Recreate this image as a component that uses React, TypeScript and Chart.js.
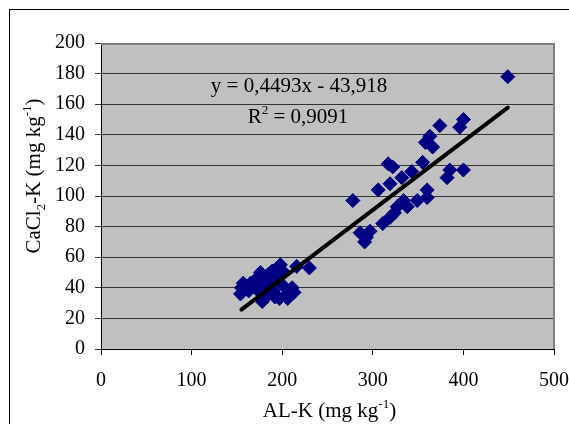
import React, { useEffect, useRef } from 'react';
import { Chart, registerables } from 'chart.js';

Chart.register(...registerables);

const FAMILY = "'Liberation Serif', 'Times New Roman', serif";

// AL-K (x) and CaCl2-K (y), mg/kg
const alK = [
  154, 155, 157, 160, 163, 165, 168, 170, 172, 175, 176, 178, 180, 182, 184, 185, 187, 189, 190, 192, 194,
  195, 197, 198, 200, 202, 204, 206, 208, 211, 213, 216, 230,
  278, 286, 291, 293, 297, 306, 311, 317, 319, 319, 322, 324, 327, 332, 334, 338, 343, 349, 355, 358, 360,
  360, 363, 366, 374, 382, 385, 396, 400, 400, 449,
];
const caclK = [
  36, 40, 43, 40, 38, 43, 41, 45, 39, 46, 50, 31, 42, 47, 35, 49, 44, 51, 38, 34, 47,
  53, 33, 55, 42, 50, 35, 33, 38, 40, 37, 54, 53,
  97, 76, 70, 73, 77, 104, 82, 121, 108, 86, 119, 89, 93, 112, 97, 93, 116, 97, 122, 135, 104,
  99, 139, 132, 146, 112, 117, 145, 150, 117, 178,
];

// Linear trend line
const SLOPE = 0.4493;
const INTERCEPT = -43.918;
const FIT_RANGE = [155, 449];

const X_TICKS = [0, 100, 200, 300, 400, 500];
const Y_TICKS = [0, 20, 40, 60, 80, 100, 120, 140, 160, 180, 200];

const EQUATION = 'y = 0,4493x - 43,918';
const R2_VALUE = ' = 0,9091';

type Seg = { t: string; s?: 'sub' | 'sup' };

const X_TITLE: Seg[] = [{ t: 'AL-K (mg kg' }, { t: '-1', s: 'sup' }, { t: ')' }];
const Y_TITLE: Seg[] = [
  { t: 'CaCl' },
  { t: '2', s: 'sub' },
  { t: '-K (mg kg' },
  { t: '-1', s: 'sup' },
  { t: ')' },
];
const R2_LINE: Seg[] = [{ t: 'R' }, { t: '2', s: 'sup' }, { t: R2_VALUE }];
const EQ_LINE: Seg[] = [{ t: EQUATION }];

function segFont(size: number, s?: string) {
  return `${s ? Math.round(size * 0.62) : size}px ${FAMILY}`;
}

function drawRich(ctx: CanvasRenderingContext2D, segs: Seg[], x: number, y: number, size: number) {
  let w = 0;
  for (const seg of segs) {
    ctx.font = segFont(size, seg.s);
    w += ctx.measureText(seg.t).width;
  }
  let cx = x - w / 2;
  ctx.textAlign = 'left';
  ctx.textBaseline = 'alphabetic';
  ctx.fillStyle = '#000';
  for (const seg of segs) {
    ctx.font = segFont(size, seg.s);
    const dy = seg.s === 'sup' ? -size * 0.42 : seg.s === 'sub' ? size * 0.22 : 0;
    ctx.fillText(seg.t, cx, y + dy);
    cx += ctx.measureText(seg.t).width;
  }
}

const decorPlugin = {
  id: 'decor',
  beforeDraw(chart: any) {
    const { ctx, chartArea: a, width, height } = chart;
    ctx.save();
    ctx.fillStyle = '#fff';
    ctx.fillRect(0, 0, width, height);
    ctx.strokeStyle = '#000';
    ctx.lineWidth = 1;
    ctx.strokeRect(9.5, 9.5, width + 50, height + 50);
    ctx.fillStyle = '#c0c0c0';
    ctx.fillRect(a.left, a.top, a.right - a.left, a.bottom - a.top);
    ctx.restore();
  },
  beforeDatasetsDraw(chart: any) {
    const { ctx, chartArea: a } = chart;
    ctx.save();
    ctx.strokeStyle = '#808080';
    ctx.lineWidth = 2;
    ctx.beginPath();
    ctx.moveTo(a.left, a.top + 1);
    ctx.lineTo(a.right, a.top + 1);
    ctx.moveTo(a.right, a.top);
    ctx.lineTo(a.right, a.bottom);
    ctx.stroke();
    ctx.restore();
  },
  afterDraw(chart: any) {
    const { ctx, chartArea: a } = chart;
    ctx.save();
    drawRich(ctx, X_TITLE, (a.left + a.right) / 2 + 2, 417, 21);
    ctx.save();
    ctx.translate(40, 176);
    ctx.rotate(-Math.PI / 2);
    drawRich(ctx, Y_TITLE, 0, 0, 21);
    ctx.restore();
    drawRich(ctx, EQ_LINE, 299, 92, 21);
    drawRich(ctx, R2_LINE, 298, 123, 21);
    ctx.restore();
  },
};

export default function App() {
  const ref = useRef<HTMLCanvasElement | null>(null);

  useEffect(() => {
    document.body.style.margin = '0';
    const canvas = ref.current;
    if (!canvas) return;
    const points = alK.map((x, i) => ({ x, y: caclK[i] }));
    const fit = FIT_RANGE.map((x) => ({ x, y: SLOPE * x + INTERCEPT }));
    const tickFont = { family: FAMILY, size: 20 };
    const chart = new Chart(canvas, {
      type: 'scatter',
      data: {
        datasets: [
          {
            type: 'line',
            label: 'trend',
            data: fit,
            borderColor: '#000',
            borderWidth: 4,
            borderCapStyle: 'round',
            pointRadius: 0,
            showLine: true,
            fill: false,
            order: 0,
          } as any,
          {
            label: 'data',
            data: points,
            pointStyle: 'rectRot',
            pointRadius: 7,
            pointHoverRadius: 7,
            backgroundColor: '#000080',
            borderColor: '#000080',
            borderWidth: 1,
            order: 1,
          },
        ],
      },
      options: {
        responsive: false,
        animation: false,
        devicePixelRatio: 1,
        layout: { padding: { left: 0, top: 43, right: 15, bottom: 0 } },
        plugins: { legend: { display: false }, tooltip: { enabled: false }, title: { display: false } },
        scales: {
          x: {
            type: 'linear',
            min: 0,
            max: 500,
            afterBuildTicks: (s: any) => {
              s.ticks = X_TICKS.map((v) => ({ value: v }));
            },
            afterFit: (s: any) => {
              s.height = 75;
              s.paddingLeft = 0;
              s.paddingRight = 0;
            },
            grid: { drawOnChartArea: false, drawTicks: true, tickLength: 6, color: '#000' },
            border: { display: true, color: '#000', width: 1 },
            ticks: { font: tickFont, color: '#000', padding: 14, maxRotation: 0, autoSkip: false },
          },
          y: {
            type: 'linear',
            min: 0,
            max: 200,
            afterBuildTicks: (s: any) => {
              s.ticks = Y_TICKS.map((v) => ({ value: v }));
            },
            afterFit: (s: any) => {
              s.width = 101;
              s.paddingTop = 0;
              s.paddingBottom = 0;
            },
            grid: { drawOnChartArea: true, drawTicks: true, tickLength: 6, color: '#333', lineWidth: 1 },
            border: { display: true, color: '#000', width: 1 },
            ticks: { font: tickFont, color: '#000', padding: 10, autoSkip: false },
          },
        },
      },
      plugins: [decorPlugin],
    });
    return () => chart.destroy();
  }, []);

  return (
    <div style={{ width: 569, height: 424 }}>
      <canvas ref={ref} width={569} height={424} style={{ display: 'block' }} />
    </div>
  );
}
